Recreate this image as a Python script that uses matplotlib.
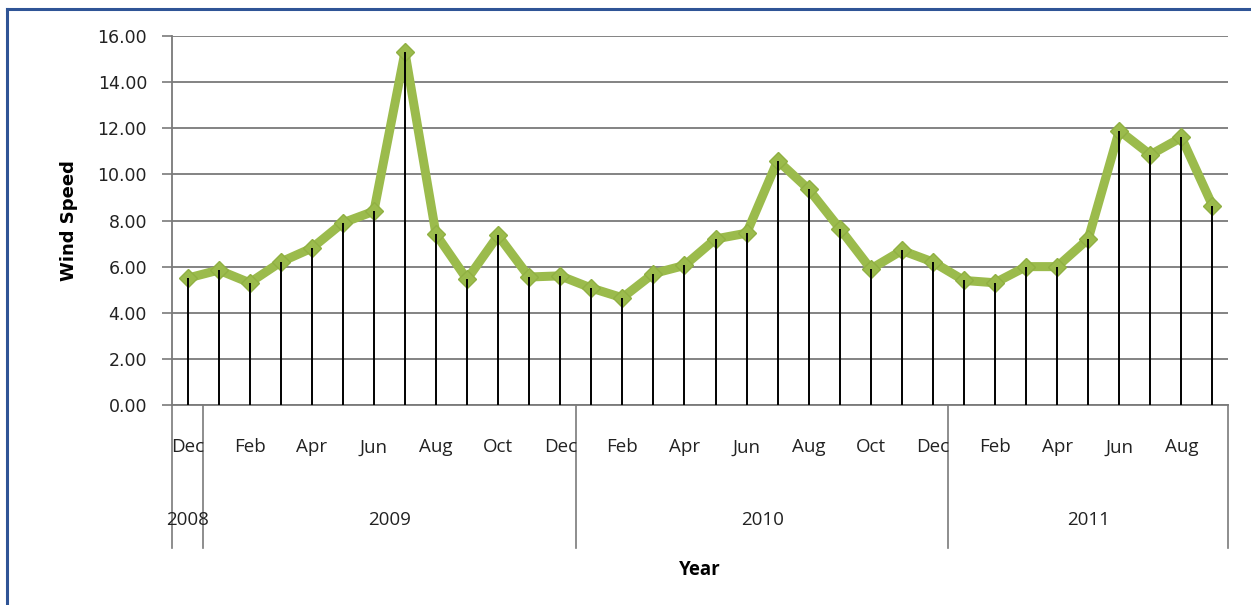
import matplotlib
matplotlib.use("Agg")
import matplotlib.pyplot as plt
import matplotlib.transforms as mtransforms
from matplotlib.lines import Line2D

# ---- data ----
months = ["Dec",
          "Jan", "Feb", "Mar", "Apr", "May", "Jun", "Jul", "Aug", "Sep", "Oct", "Nov", "Dec",
          "Jan", "Feb", "Mar", "Apr", "May", "Jun", "Jul", "Aug", "Sep", "Oct", "Nov", "Dec",
          "Jan", "Feb", "Mar", "Apr", "May", "Jun", "Jul", "Aug", "Sep"]
years = ["2008", "2009", "2010", "2011"]
year_counts = [1, 12, 12, 9]
wind_speed = [5.5,
              5.85, 5.3, 6.2, 6.8, 7.9, 8.4, 15.3, 7.4, 5.45, 7.35, 5.55, 5.6,
              5.07, 4.65, 5.7, 6.05, 7.2, 7.45, 10.6, 9.35, 7.65, 5.9, 6.7, 6.2,
              5.4, 5.3, 6.0, 6.0, 7.2, 11.9, 10.85, 11.6, 8.65]
y_ticks = [0, 2, 4, 6, 8, 10, 12, 14, 16]

W, H = 1251, 605
fig = plt.figure(figsize=(W / 100, H / 100), dpi=100)
fig.patch.set_facecolor("white")

ax = fig.add_axes([172 / W, 1 - 405 / H, (1228 - 172) / W, (405 - 36) / H])
n = len(months)
x = list(range(n))

ax.set_ylim(0, 16)
ax.set_xlim(-0.5, n - 0.5)
ax.set_yticks(y_ticks)
ax.set_yticklabels([f"{v:.2f}" for v in y_ticks], fontsize=12.5, color="#222222",
                   family="DejaVu Sans")
ax.yaxis.grid(True, color="#7a7a7a", linewidth=1.3)
ax.set_axisbelow(True)
ax.tick_params(axis="y", length=7, color="#7a7a7a", width=1.2, pad=11)
ax.tick_params(axis="x", length=0)
ax.set_xticks([])
for s in ["top", "right"]:
    ax.spines[s].set_visible(False)
for s in ["left", "bottom"]:
    ax.spines[s].set_color("#7a7a7a")
    ax.spines[s].set_linewidth(1.3)

# series
ax.plot(x, wind_speed, color="#9bbb4c", linewidth=6.5, marker="D", markersize=9,
        markeredgecolor="#90b042", markerfacecolor="#9bbb4c", zorder=3,
        solid_joinstyle="round", solid_capstyle="round")
# drop lines
ax.vlines(x, 0, wind_speed, colors="black", linewidth=1.4, zorder=4)

# month labels (every other)
trans = mtransforms.blended_transform_factory(ax.transData, ax.transAxes)
for i, m in enumerate(months):
    if i % 2 == 0:
        ax.text(i, -0.115, m, transform=trans, ha="center", va="center",
                fontsize=13.5, family="Open Sans", color="#222222")

# year group separators and labels
bottom_frac = -(548 - 405) / (405 - 36)
bounds = [-0.5]
for c in year_counts:
    bounds.append(bounds[-1] + c)
for b in bounds:
    ax.add_line(Line2D([b, b], [0, bottom_frac], transform=trans, color="#7a7a7a",
                       linewidth=1.2, clip_on=False))
for yr, a, b in zip(years, bounds[:-1], bounds[1:]):
    ax.text((a + b) / 2, -(520 - 405) / (405 - 36), yr, transform=trans,
            ha="center", va="center", fontsize=13.5, family="Open Sans", color="#222222")

ax.set_ylabel("Wind Speed", fontsize=13, fontweight="bold", family="DejaVu Sans",
              labelpad=14)
fig.text(700 / W, 1 - 570 / H, "Year", ha="center", va="center", fontsize=13.5,
         fontweight="bold", family="Open Sans")

# blue frame (top and left visible)
fig.add_artist(Line2D([7 / W, 1.0], [1 - 9 / H, 1 - 9 / H], transform=fig.transFigure,
                      color="#2f5496", linewidth=2.2))
fig.add_artist(Line2D([7 / W, 7 / W], [0, 1 - 9 / H], transform=fig.transFigure,
                      color="#2f5496", linewidth=2.2))

fig.savefig("out.png", dpi=100, facecolor="white")
